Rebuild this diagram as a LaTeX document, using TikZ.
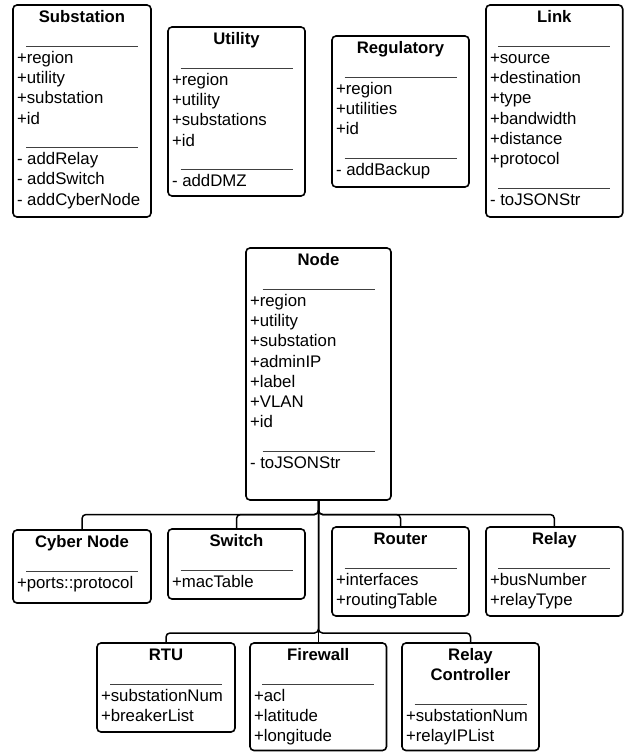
\documentclass[tikz,border=0pt]{standalone}
\usepackage{fontspec}
\usepackage{etoolbox}
\setmainfont{Liberation Sans}
\usetikzlibrary{calc}

\tikzset{
  classbox/.style={draw=black, line width=1.6pt, rounded corners=4pt, fill=white, inner sep=0pt},
  titletext/.style={anchor=base, inner sep=0pt, font=\bfseries\fontsize{16.7}{20}\selectfont},
  bodytext/.style={anchor=base west, inner sep=0pt, font=\fontsize{16.8}{20}\selectfont},
  sepline/.style={draw=black!75, line width=1.1pt},
  conn/.style={draw=black, line width=1.5pt, rounded corners=4pt},
}

% UML class box: name, left, top, right, bottom, title lines, body lines (SEP = divider)
\newcommand\umlclass[7]{%
  \pgfmathsetmacro\ucx{(#2+#4)/2}%
  \pgfmathsetmacro\ucy{(#3+#5)/2}%
  \pgfmathsetmacro\ucw{#4-#2}%
  \pgfmathsetmacro\uch{#5-#3}%
  \node[classbox, minimum width=\ucw pt, minimum height=\uch pt] (#1) at (\ucx,\ucy) {};
  \foreach \ttl [count=\i] in {#6} {%
    \pgfmathsetmacro\yy{#3+17.5+20.3*(\i-1)}%
    \node[titletext] (#1-title\i) at (\ucx,\yy) {\ttl};
    \xdef\ntitles{\i}%
  }%
  \pgfmathsetmacro\yy{#3+17+20.3*\ntitles+3.8}%
  \draw[sepline] (\ucx-56,\yy) -- (\ucx+56,\yy);
  \foreach \itm [count=\i from 0] in {#7} {%
    \pgfmathsetmacro\yy{#3+17.5+20.3*(\ntitles+1+\i)}%
    \ifdefstring{\itm}{SEP}{%
      \draw[sepline] (\ucx-56,\yy+3.3) -- (\ucx+56,\yy+3.3);
    }{%
      \node[bodytext] (#1-line\i) at (#2+3.8,\yy) {\itm};
    }%
  }%
}

\begin{document}
\begin{tikzpicture}[x=1pt, y=-1pt]
  \fill[white] (0,0) rectangle (624,752);
  \useasboundingbox (0,0) rectangle (624,752);

  % top row
  \umlclass{substation}{13}{5}{151}{217}{Substation}
    {+region,+utility,+substation,+id,SEP,- addRelay,- addSwitch,- addCyberNode}
  \umlclass{utility}{168}{27}{305}{196}{Utility}
    {+region,+utility,+substations,+id,SEP,- addDMZ}
  \umlclass{regulatory}{332}{36}{469}{187}{Regulatory}
    {+region,+utilities,+id,SEP,- addBackup}
  \umlclass{link}{486}{5}{622.7}{217}{Link}
    {+source,+destination,+type,+bandwidth,+distance,+protocol,SEP,- toJSONStr}

  % base class
  \umlclass{nodecls}{246}{248}{391}{500}{Node}
    {+region,+utility,+substation,+adminIP,+label,+VLAN,+id,SEP,- toJSONStr}

  % first row of subclasses
  \umlclass{cyber}{13}{530}{151}{603}{Cyber Node}{+ports::protocol}
  \umlclass{switch}{168}{529}{305}{599}{Switch}{+macTable}
  \umlclass{router}{332}{527}{469}{616}{Router}{+interfaces,+routingTable}
  \umlclass{relay}{486}{527}{622.7}{616}{Relay}{+busNumber,+relayType}

  % second row of subclasses
  \umlclass{rtu}{97}{643}{235}{732}{RTU}{+substationNum,+breakerList}
  \umlclass{firewall}{250}{643}{386.5}{750.5}{Firewall}{+acl,+latitude,+longitude}
  \umlclass{relayctl}{402}{643}{539}{750.5}{Relay,Controller}{+substationNum,+relayIPList}

  % inheritance tree
  \coordinate (busA) at (318.5,514.5);
  \coordinate (busB) at (318.5,633);
  \draw[conn] (nodecls.south) -- (nodecls.south |- busA) -| (cyber.north);
  \draw[conn] (nodecls.south) -- (nodecls.south |- busA) -| (switch.north);
  \draw[conn] (nodecls.south) -- (nodecls.south |- busA) -| (router.north);
  \draw[conn] (nodecls.south) -- (nodecls.south |- busA) -| (relay.north);
  \draw[conn] (nodecls.south) -- (nodecls.south |- busB) -| (rtu.north);
  \draw[conn] (nodecls.south) -- (nodecls.south |- busB) -| (relayctl.north);
  \draw[conn] (nodecls.south) -- (nodecls.south |- firewall.north);
\end{tikzpicture}
\end{document}
